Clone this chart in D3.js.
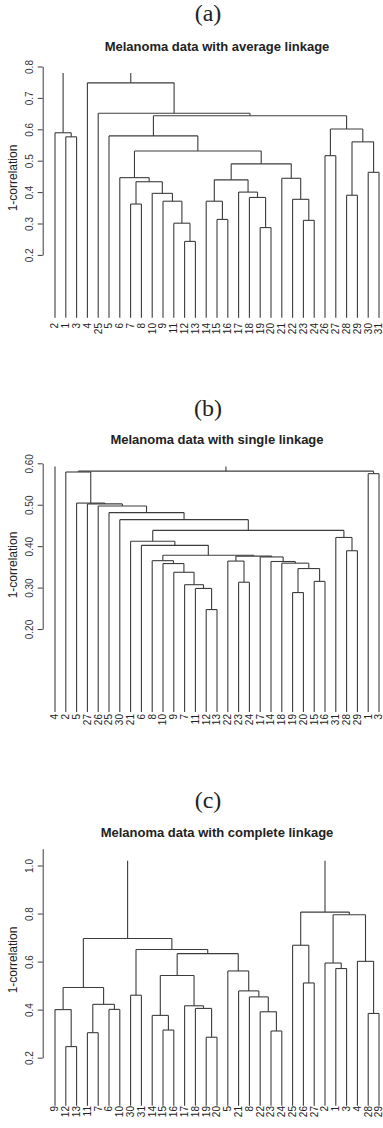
<!DOCTYPE html>
<html>
<head>
<meta charset="utf-8">
<script src="https://cdn.jsdelivr.net/npm/d3@7"></script>
<style>
    body { margin: 0; background: #fff; }
    svg { display: block; }
</style>
</head>
<body>
<svg id="chart" width="383" height="1128"></svg>
<script>
// Melanoma dendrograms, merges written the way R's hclust stores them:
// negative number = observation, positive number = row of an earlier merge.

// (a) average linkage
const titleA = "Melanoma data with average linkage";
const leafOrderA = [2, 1, 3, 4, 25, 5, 6, 7, 8, 10, 9, 11, 12, 13, 14, 15, 16, 17, 18, 19, 20, 21, 22, 23, 24, 26, 27, 28, 29, 30, 31];
const mergesA = [
    [-12, -13], [-19, -20], [-11, 1], [-23, -24], [-15, -16],
    [-7, -8], [-9, 3], [-14, 5], [-22, 4], [-18, 2],
    [-28, -29], [-10, 7], [-17, 10], [6, 12], [8, 13],
    [-21, 9], [-6, 14], [-30, -31], [15, 16], [-26, -27],
    [17, 19], [11, 18], [-1, -3], [-5, 21], [-2, 23],
    [20, 22], [24, 26], [-25, 27], [-4, 28], [25, 29]
];
const heightsA = [
    0.243, 0.287, 0.301, 0.310, 0.313,
    0.362, 0.371, 0.371, 0.377, 0.383,
    0.390, 0.396, 0.400, 0.433, 0.439,
    0.444, 0.446, 0.463, 0.490, 0.516,
    0.531, 0.560, 0.576, 0.579, 0.589,
    0.601, 0.643, 0.651, 0.748, 0.779
];
const ticksA = [0.2, 0.3, 0.4, 0.5, 0.6, 0.7, 0.8];

// (b) single linkage
const titleB = "Melanoma data with single linkage";
const leafOrderB = [4, 2, 5, 27, 26, 25, 30, 21, 6, 8, 10, 9, 7, 11, 12, 13, 22, 23, 24, 17, 14, 18, 19, 20, 15, 16, 31, 28, 29, 1, 3];
const mergesB = [
    [-12, -13], [-19, -20], [-11, 1], [-7, 3], [-23, -24],
    [-15, -16], [-9, 4], [2, 6], [-10, 7], [-18, 8],
    [-14, 10], [-22, 5], [-8, 9], [-17, 11], [12, 14],
    [13, 15], [-28, -29], [-6, 16], [-21, 18], [-31, 17],
    [19, 20], [-30, 21], [-25, 22], [-26, 23], [-27, 24],
    [-5, 25], [-1, -3], [-2, 26], [27, 28], [-4, 29]
];
const heightsB = [
    0.247, 0.288, 0.298, 0.307, 0.313,
    0.315, 0.337, 0.346, 0.358, 0.359,
    0.363, 0.364, 0.365, 0.374, 0.376,
    0.378, 0.389, 0.402, 0.412, 0.421,
    0.438, 0.464, 0.481, 0.497, 0.502,
    0.504, 0.575, 0.579, 0.581, 0.592
];
const ticksB = [0.2, 0.3, 0.4, 0.5, 0.6];

// (c) complete linkage
const titleC = "Melanoma data with complete linkage";
const leafOrderC = [9, 12, 13, 11, 7, 6, 10, 30, 31, 14, 15, 16, 17, 18, 19, 20, 5, 21, 8, 22, 23, 24, 25, 26, 27, 2, 1, 3, 4, 28, 29];
const mergesC = [
    [-12, -13], [-19, -20], [-11, -7], [-23, -24], [-15, -16],
    [-14, 5], [-28, -29], [-22, 4], [-9, 1], [-6, -10],
    [-18, 2], [-17, 11], [3, 10], [-8, 8], [-30, -31],
    [-21, 14], [9, 13], [-26, -27], [6, 12], [-5, 16],
    [-1, -3], [-2, 21], [-4, 7], [19, 20], [15, 24],
    [-25, 18], [17, 25], [22, 23], [26, 28], [27, 29]
];
const heightsC = [
    0.246, 0.285, 0.304, 0.311, 0.315,
    0.376, 0.384, 0.391, 0.400, 0.401,
    0.405, 0.416, 0.422, 0.453, 0.460,
    0.478, 0.492, 0.511, 0.542, 0.561,
    0.571, 0.594, 0.601, 0.633, 0.650,
    0.668, 0.696, 0.795, 0.806, 1.02
];
const ticksC = [0.2, 0.4, 0.6, 0.8, 1.0];

const lineColor = "#3c3c3c";
const sansFont = "'Liberation Sans', Arial, sans-serif";

// layout of the three stacked panels
const panels = [
    { letter: "(a)", title: titleA, order: leafOrderA, merges: mergesA, heights: heightsA,
      ticks: ticksA, fmt: ".1f", yMax: 0.8, yZero: 317.7, yTop: 66.5, axisTop: 0.8,
      letterY: 20.7, titleY: 50.5, ylabY: 178, labelY: 323 },
    { letter: "(b)", title: titleB, order: leafOrderB, merges: mergesB, heights: heightsB,
      ticks: ticksB, fmt: ".2f", yMax: 0.6, yZero: 711.9, yTop: 463.3, axisTop: 0.6,
      letterY: 415.7, titleY: 444, ylabY: 565, labelY: 714 },
    { letter: "(c)", title: titleC, order: leafOrderC, merges: mergesC, heights: heightsC,
      ticks: ticksC, fmt: ".1f", yMax: 1.0, yZero: 1105.7, yTop: 865.5, axisTop: 1.07,
      letterY: 808, titleY: 837, ylabY: 960, labelY: 1106 }
];

const svg = d3.select("#chart");
svg.append("rect").attr("width", 383).attr("height", 1128).attr("fill", "#fff");

function drawPanel(p) {
    const x = d3.scalePoint().domain(p.order).range([55, 379]);
    const y = d3.scaleLinear().domain([0, p.yMax]).range([p.yZero, p.yTop]);
    const g = svg.append("g");

    // panel letter and title
    g.append("text")
        .attr("x", 208).attr("y", p.letterY)
        .attr("text-anchor", "middle")
        .attr("font-family", "'Liberation Serif', 'DejaVu Serif', serif")
        .attr("font-size", 24)
        .attr("fill", "#222")
        .text(p.letter);

    g.append("text")
        .attr("x", 217).attr("y", p.titleY)
        .attr("text-anchor", "middle")
        .attr("font-family", sansFont)
        .attr("font-weight", "bold")
        .attr("font-size", 13)
        .attr("fill", "#222")
        .text(p.title);

    // y axis, drawn from the lowest tick upwards like R does
    const axisScale = y.copy()
        .domain([p.ticks[0], p.axisTop])
        .range([y(p.ticks[0]), y(p.axisTop)]);

    const axis = g.append("g")
        .attr("transform", "translate(42.7,0)")
        .call(d3.axisLeft(axisScale)
            .tickValues(p.ticks)
            .tickFormat(d3.format(p.fmt))
            .tickSize(5)
            .tickSizeOuter(0));

    axis.attr("font-family", sansFont).attr("font-size", 10);
    axis.select(".domain").attr("stroke", lineColor);
    axis.selectAll(".tick line").attr("stroke", lineColor);
    axis.selectAll(".tick text")
        .attr("transform", "rotate(-90)")
        .attr("x", 0).attr("y", -10).attr("dy", 0)
        .attr("text-anchor", "middle")
        .attr("fill", "#333");

    g.append("text")
        .attr("transform", `translate(17,${p.ylabY}) rotate(-90)`)
        .attr("text-anchor", "middle")
        .attr("font-family", sansFont)
        .attr("font-size", 12)
        .attr("fill", "#222")
        .text("1-correlation");

    // work out node positions and the segments of the tree
    const nodes = [];
    const segs = [];
    const pos = ref => ref < 0 ? { x: x(-ref), h: 0 } : nodes[ref - 1];

    p.merges.forEach((m, j) => {
        const a = pos(m[0]), b = pos(m[1]);
        const h = p.heights[j];
        nodes.push({ x: (a.x + b.x) / 2, h: h });
        segs.push([a.x, a.h, a.x, h]);
        segs.push([b.x, b.h, b.x, h]);
        // the top join has no crossbar in the original figure
        if (j < p.merges.length - 1) segs.push([a.x, h, b.x, h]);
    });

    g.append("g").selectAll("line")
        .data(segs)
        .enter().append("line")
        .attr("x1", d => d[0]).attr("y1", d => y(d[1]))
        .attr("x2", d => d[2]).attr("y2", d => y(d[3]))
        .attr("stroke", lineColor)
        .attr("stroke-width", 1.1);

    // leaf labels, read bottom to top
    g.append("g").selectAll("text")
        .data(p.order)
        .enter().append("text")
        .attr("transform", d => `translate(${x(d) + 3.3},${p.labelY}) rotate(-90)`)
        .attr("text-anchor", "end")
        .attr("font-family", sansFont)
        .attr("font-size", 10)
        .attr("fill", "#222")
        .text(d => d);
}

panels.forEach(drawPanel);
</script>
</body>
</html>
